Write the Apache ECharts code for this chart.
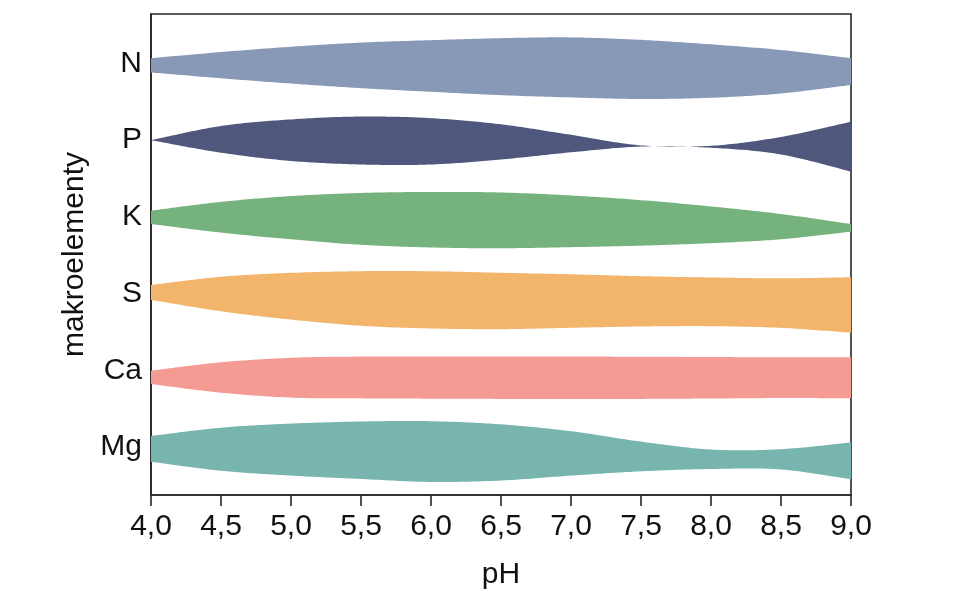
<!DOCTYPE html>
<html>
<head>
<meta charset="utf-8">
<script src="https://cdn.jsdelivr.net/npm/echarts@6/dist/echarts.min.js"></script>
<style>html,body{margin:0;padding:0;background:#fff}#c{width:960px;height:594px}</style>
</head>
<body>
<div id="c"></div>
<script>
// pH sample points (also the x tick labels)
const pH = ['4,0', '4,5', '5,0', '5,5', '6,0', '6,5', '7,0', '7,5', '8,0', '8,5', '9,0'];
const elements = ['N', 'P', 'K', 'S', 'Ca', 'Mg'];
// band edges, as offsets from each element's row (upper edge negative = above row)
const N_upper  = [-0.068, -0.149, -0.218, -0.272, -0.304, -0.330, -0.340, -0.308, -0.249, -0.176, -0.068];
const N_lower  = [ 0.117,  0.193,  0.262,  0.322,  0.369,  0.413,  0.443,  0.463,  0.447,  0.391,  0.280];
const P_upper  = [ 0.000, -0.185, -0.271, -0.308, -0.287, -0.206, -0.070,  0.068,  0.073, -0.042, -0.241];
const P_lower  = [ 0.000,  0.163,  0.271,  0.317,  0.317,  0.252,  0.158,  0.083,  0.099,  0.186,  0.411];
const K_upper  = [-0.081, -0.196, -0.271, -0.312, -0.325, -0.318, -0.279, -0.218, -0.136, -0.037,  0.093];
const K_lower  = [ 0.093,  0.205,  0.293,  0.364,  0.399,  0.409,  0.395,  0.375,  0.343,  0.292,  0.193];
const S_upper  = [-0.112, -0.219, -0.270, -0.292, -0.291, -0.271, -0.252, -0.227, -0.210, -0.199, -0.213];
const S_lower  = [ 0.083,  0.231,  0.339,  0.420,  0.455,  0.464,  0.446,  0.429,  0.425,  0.447,  0.510];
const Ca_upper = [ 0.005, -0.104, -0.163, -0.179, -0.181, -0.180, -0.179, -0.177, -0.173, -0.169, -0.169];
const Ca_lower = [ 0.179,  0.292,  0.356,  0.366,  0.370,  0.373,  0.374,  0.373,  0.368,  0.362,  0.365];
const Mg_upper = [-0.143, -0.252, -0.305, -0.332, -0.336, -0.295, -0.206, -0.070,  0.033,  0.029, -0.061];
const Mg_lower = [ 0.192,  0.310,  0.373,  0.417,  0.456,  0.437,  0.373,  0.317,  0.287,  0.293,  0.421];

const colors = ['#8898b7', '#4f577c', '#76b27d', '#f2b56b', '#f49b94', '#78b5af'];
const bands = [[N_upper, N_lower], [P_upper, P_lower], [K_upper, K_lower],
               [S_upper, S_lower], [Ca_upper, Ca_lower], [Mg_upper, Mg_lower]];

const FONT = 'Liberation Sans, Arial, sans-serif';

// Catmull-Rom smoothing of pixel points returned by the axis scales
function smoothPts(pts, steps) {
  const out = [];
  const n = pts.length;
  for (let i = 0; i < n - 1; i++) {
    const p0 = pts[Math.max(i - 1, 0)], p1 = pts[i], p2 = pts[i + 1], p3 = pts[Math.min(i + 2, n - 1)];
    const c1 = [p1[0] + (p2[0] - p0[0]) / 6, p1[1] + (p2[1] - p0[1]) / 6];
    const c2 = [p2[0] - (p3[0] - p1[0]) / 6, p2[1] - (p3[1] - p1[1]) / 6];
    for (let s = 0; s < steps; s++) {
      const t = s / steps, u = 1 - t;
      out.push([
        u*u*u*p1[0] + 3*u*u*t*c1[0] + 3*u*t*t*c2[0] + t*t*t*p2[0],
        u*u*u*p1[1] + 3*u*u*t*c1[1] + 3*u*t*t*c2[1] + t*t*t*p2[1]
      ]);
    }
  }
  out.push(pts[n - 1]);
  return out;
}

const series = bands.map((b, i) => ({
  type: 'custom', silent: true, clip: true,
  data: pH.map((x, k) => [k, i + b[0][k], i + b[1][k]]),
  renderItem: function (params, api) {
    if (params.dataIndexInside !== 0) return null;
    const n = pH.length;
    const upper = [], lower = [];
    for (let k = 0; k < n; k++) {
      upper.push(api.coord([api.value(0, k), api.value(1, k)]));
      lower.push(api.coord([api.value(0, k), api.value(2, k)]));
    }
    const pts = smoothPts(upper, 24).concat(smoothPts(lower.reverse(), 24));
    return {type: 'polygon', shape: {points: pts}, style: {fill: colors[i], stroke: null}};
  }
}));

const chart = echarts.init(document.getElementById('c'), null, {renderer: 'canvas'});
chart.setOption({
  animation: false,
  grid: {left: 151, right: 109, top: 14, bottom: 99, show: true, outerBoundsMode: 'none',
         containLabel: false,
         borderColor: '#262626', borderWidth: 1.6, backgroundColor: 'transparent'},
  xAxis: {
    type: 'category', data: pH, boundaryGap: false,
    name: 'pH', nameLocation: 'middle', nameGap: 65,
    nameTextStyle: {fontSize: 30, color: '#111', fontFamily: FONT},
    axisLine: {show: true, onZero: false, lineStyle: {color: '#262626', width: 1.6}},
    axisTick: {show: true, length: 11, interval: 0, lineStyle: {color: '#262626', width: 1.6}},
    axisLabel: {fontSize: 30, color: '#111', fontFamily: FONT, margin: 17, interval: 0},
    splitLine: {show: false}
  },
  yAxis: {
    type: 'value', inverse: true, min: -0.645, max: 5.626,
    name: 'makroelementy', nameLocation: 'middle', nameGap: 56, nameRotate: 90,
    nameTextStyle: {fontSize: 30, color: '#111', fontFamily: FONT},
    axisLine: {show: true, onZero: false, lineStyle: {color: '#262626', width: 1.6}},
    axisTick: {show: false},
    axisLabel: {fontSize: 30, color: '#111', fontFamily: FONT, margin: 9,
                customValues: elements.map((e, i) => i),
                formatter: v => elements[Math.round(v)] || ''},
    splitLine: {show: false}
  },
  series: series
});
</script>
</body>
</html>
